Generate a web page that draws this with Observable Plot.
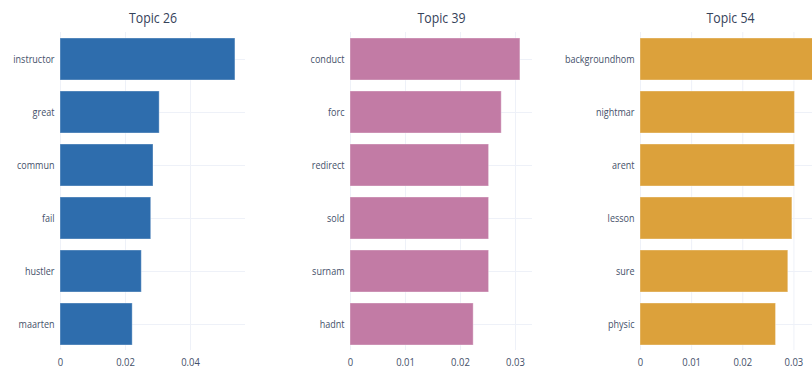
<!DOCTYPE html>
<html>
<head>
<meta charset="utf-8">
<script src="https://cdn.jsdelivr.net/npm/d3@7"></script>
<script src="https://cdn.jsdelivr.net/npm/@observablehq/plot@0.6"></script>
<style>
  html, body { margin: 0; padding: 0; background: #fff; overflow: hidden; }
  #chart { position: relative; width: 812px; height: 389px; overflow: hidden; }
</style>
</head>
<body>
<div id="chart"></div>
<script>
// Topic 26
const topic26Words = ["instructor", "great", "commun", "fail", "hustler", "maarten"];
const topic26Values = [0.0538, 0.0305, 0.0286, 0.0279, 0.0250, 0.0222];
const topic26Ticks = [0, 0.02, 0.04];
// Topic 39
const topic39Words = ["conduct", "forc", "redirect", "sold", "surnam", "hadnt"];
const topic39Values = [0.0309, 0.0275, 0.0252, 0.0252, 0.0252, 0.0224];
const topic39Ticks = [0, 0.01, 0.02, 0.03];
// Topic 54
const topic54Words = ["backgroundhom", "nightmar", "arent", "lesson", "sure", "physic"];
const topic54Values = [0.0345, 0.0302, 0.0302, 0.0297, 0.0289, 0.0265];
const topic54Ticks = [0, 0.01, 0.02, 0.03];

const topicTitles = ["Topic 26", "Topic 39", "Topic 54"];
const topicColors = ["#2e6dad", "#c27ba5", "#dca13b"];

const fmt = d => d === 0 ? "0" : d.toFixed(2);
const panels = [
  {words: topic26Words, values: topic26Values, ticks: topic26Ticks, left: 0, width: 250, marginLeft: 60, marginRight: 5, domain: [0, 0.0569]},
  {words: topic39Words, values: topic39Values, ticks: topic39Ticks, left: 270, width: 262, marginLeft: 80, marginRight: 0, domain: [0, 0.0331]},
  {words: topic54Words, values: topic54Values, ticks: topic54Ticks, left: 540, width: 280, marginLeft: 100, marginRight: 0, domain: [0, 0.0352]}
];

const font = "'Open Sans', sans-serif";
const container = document.getElementById("chart");

panels.forEach((p, i) => {
  const data = p.words.map((w, j) => ({word: w, value: p.values[j]}));
  const chart = Plot.plot({
    width: p.width,
    height: 389,
    marginLeft: p.marginLeft,
    marginRight: p.marginRight,
    marginTop: 32,
    marginBottom: 39,
    style: {fontFamily: font, fontSize: "11px", color: "#45516a", background: "transparent", overflow: "visible"},
    x: {domain: p.domain, label: null, axis: null},
    y: {domain: p.words, paddingInner: 0.21, paddingOuter: 0.1, label: null, axis: null},
    marks: [
      Plot.ruleX(p.ticks, {stroke: "#eef1f8", strokeWidth: 1}),
      Plot.ruleY(p.words, {y: d => d, stroke: "#eef1f8", strokeWidth: 1}),
      Plot.barX(data, {x: "value", y: "word", fill: topicColors[i], stroke: "#ffffff", strokeOpacity: 0.35, strokeWidth: 1}),
      Plot.axisY({tickSize: 0, tickPadding: 6, fontSize: 11, label: null}),
      Plot.axisX({ticks: p.ticks, tickFormat: fmt, tickSize: 0, tickPadding: 7, fontSize: 11.5, label: null}),
      Plot.text([topicTitles[i]], {frameAnchor: "top", lineAnchor: "middle", dy: -14, fontSize: 15, fill: "#36425a", text: d => d})
    ]
  });
  chart.style.position = "absolute";
  chart.style.left = p.left + "px";
  chart.style.top = "0px";
  container.appendChild(chart);
  // horizontally condense text like the reference image
  chart.querySelectorAll("text").forEach(t => {
    const len = t.getComputedTextLength();
    if (len > 0) {
      t.setAttribute("textLength", (len * 0.82).toFixed(1));
      t.setAttribute("lengthAdjust", "spacingAndGlyphs");
    }
  });
});
</script>
</body>
</html>
